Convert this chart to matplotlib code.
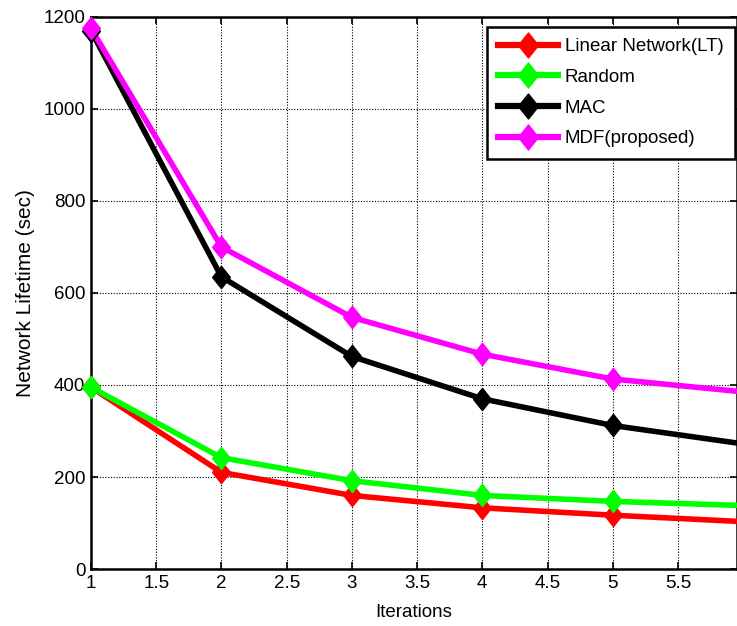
import matplotlib
matplotlib.use("Agg")
import matplotlib.pyplot as plt
from matplotlib.lines import Line2D
from matplotlib.path import Path

iterations = [1, 2, 3, 4, 5, 6]
linear_lt = [395, 210, 160, 133, 117, 103]
random_vals = [395, 242, 192, 160, 147, 138]
mac_vals = [1170, 635, 462, 370, 312, 272]
mdf_vals = [1175, 700, 547, 467, 413, 385]
labels = ["Linear Network(LT)", "Random", "MAC", "MDF(proposed)"]
colors = ["#ff0000", "#00ff00", "#000000", "#ff00ff"]
series = [linear_lt, random_vals, mac_vals, mdf_vals]

plt.rcParams['font.family'] = ['Liberation Sans', 'DejaVu Sans']

diamond = Path([(0, 1), (0.8, 0), (0, -1), (-0.8, 0), (0, 1)],
               [Path.MOVETO, Path.LINETO, Path.LINETO, Path.LINETO, Path.CLOSEPOLY])

fig = plt.figure(figsize=(7.37, 6.26), dpi=100)
ax = fig.add_axes([0.1235, 0.091, 0.876, 0.882])

handles = []
for vals, c, lab in zip(series, colors, labels):
    ax.plot(iterations, vals, color=c, lw=4.0, zorder=3, solid_joinstyle='miter')
    ax.plot(iterations[:5], vals[:5], linestyle='none', marker=diamond, ms=16,
            color=c, clip_on=False, zorder=4)
    handles.append(Line2D([], [], color=c, lw=4.5, marker=diamond, ms=18))

ax.set_xlim(1, 5.95)
ax.set_ylim(0, 1200)
ax.set_xticks([1, 1.5, 2, 2.5, 3, 3.5, 4, 4.5, 5, 5.5])
ax.set_xticklabels(["1", "1.5", "2", "2.5", "3", "3.5", "4", "4.5", "5", "5.5"])
ax.set_yticks([0, 200, 400, 600, 800, 1000, 1200])
ax.grid(True, color='black', linestyle=(0, (1, 1.5)), linewidth=0.8)
ax.tick_params(direction='in', top=True, right=True, labelsize=13.5, length=5,
               width=1.2, pad=4)
for s in ax.spines.values():
    s.set_linewidth(1.8)
ax.set_xlabel("Iterations", fontsize=13.5, labelpad=9)
ax.set_ylabel("Network Lifetime (sec)", fontsize=15, labelpad=6)

leg = ax.legend(handles, labels, loc='upper right', fontsize=13.5,
                bbox_to_anchor=(735 / 737, 1 - 27 / 626),
                bbox_transform=fig.transFigure,
                fancybox=False, framealpha=1, edgecolor='black',
                handlelength=3.2, borderpad=0.6, labelspacing=0.72,
                handletextpad=0.35, borderaxespad=0)
leg.get_frame().set_linewidth(1.8)

fig.savefig("out.png", dpi=100)
